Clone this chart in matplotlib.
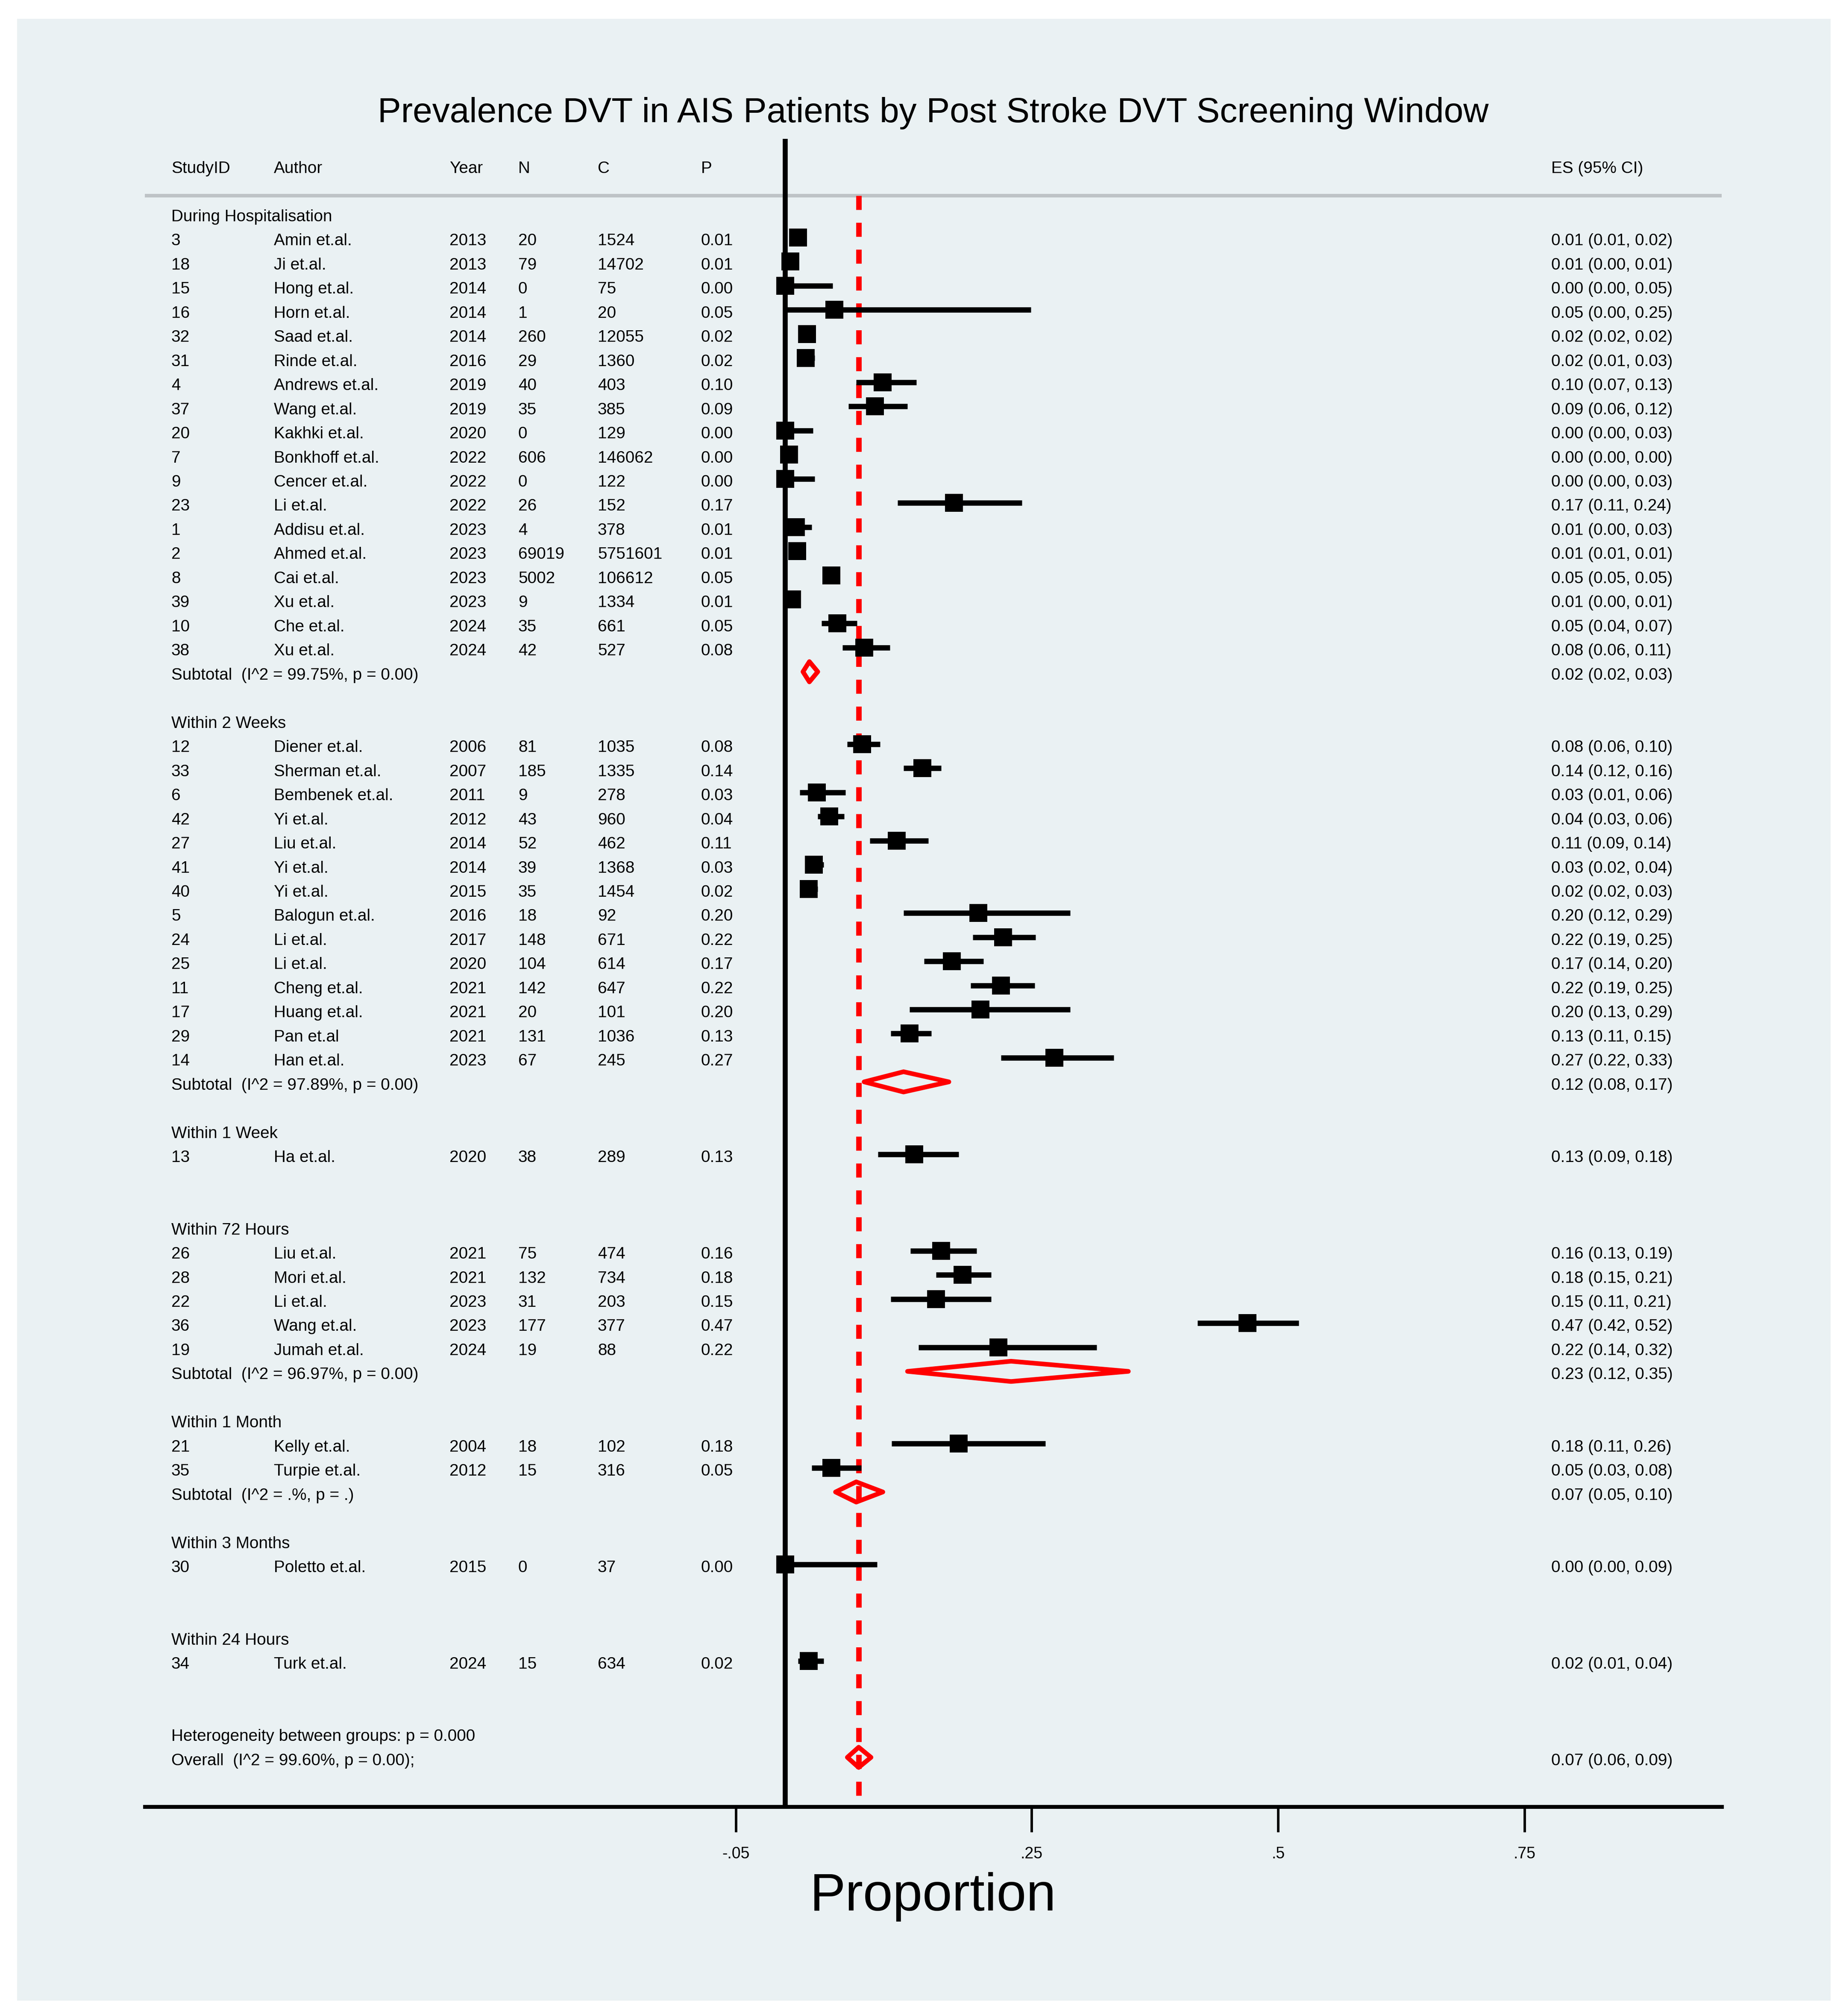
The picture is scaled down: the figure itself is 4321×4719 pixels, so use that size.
import matplotlib
matplotlib.use('Agg')
import matplotlib.pyplot as plt
import matplotlib.transforms as mtransforms
from matplotlib.patches import Rectangle, Polygon

plt.rcParams['font.family'] = ['Liberation Sans', 'DejaVu Sans']
plt.rcParams['lines.scale_dashes'] = False

# ---------------- data ----------------
title = "Prevalence DVT in AIS Patients by Post Stroke DVT Screening Window"
col_headers = ["StudyID", "Author", "Year", "N", "C", "P"]
es_header = "ES (95% CI)"

groups = ["During Hospitalisation", "Within 2 Weeks", "Within 1 Week", "Within 72 Hours",
          "Within 1 Month", "Within 3 Months", "Within 24 Hours"]
group_sizes = [18, 14, 1, 5, 2, 1, 1]

study_id = [3, 18, 15, 16, 32, 31, 4, 37, 20, 7, 9, 23, 1, 2, 8, 39, 10, 38,
            12, 33, 6, 42, 27, 41, 40, 5, 24, 25, 11, 17, 29, 14,
            13,
            26, 28, 22, 36, 19,
            21, 35,
            30,
            34]
author = ["Amin et.al.", "Ji et.al.", "Hong et.al.", "Horn et.al.", "Saad et.al.", "Rinde et.al.",
          "Andrews et.al.", "Wang et.al.", "Kakhki et.al.", "Bonkhoff et.al.", "Cencer et.al.",
          "Li et.al.", "Addisu et.al.", "Ahmed et.al.", "Cai et.al.", "Xu et.al.", "Che et.al.", "Xu et.al.",
          "Diener et.al.", "Sherman et.al.", "Bembenek et.al.", "Yi et.al.", "Liu et.al.", "Yi et.al.",
          "Yi et.al.", "Balogun et.al.", "Li et.al.", "Li et.al.", "Cheng et.al.", "Huang et.al.",
          "Pan et.al", "Han et.al.",
          "Ha et.al.",
          "Liu et.al.", "Mori et.al.", "Li et.al.", "Wang et.al.", "Jumah et.al.",
          "Kelly et.al.", "Turpie et.al.",
          "Poletto et.al.",
          "Turk et.al."]
year = [2013, 2013, 2014, 2014, 2014, 2016, 2019, 2019, 2020, 2022, 2022, 2022, 2023, 2023, 2023, 2023, 2024, 2024,
        2006, 2007, 2011, 2012, 2014, 2014, 2015, 2016, 2017, 2020, 2021, 2021, 2021, 2023,
        2020,
        2021, 2021, 2023, 2023, 2024,
        2004, 2012,
        2015,
        2024]
n_events = [20, 79, 0, 1, 260, 29, 40, 35, 0, 606, 0, 26, 4, 69019, 5002, 9, 35, 42,
            81, 185, 9, 43, 52, 39, 35, 18, 148, 104, 142, 20, 131, 67,
            38,
            75, 132, 31, 177, 19,
            18, 15,
            0,
            15]
n_total = [1524, 14702, 75, 20, 12055, 1360, 403, 385, 129, 146062, 122, 152, 378, 5751601, 106612, 1334, 661, 527,
           1035, 1335, 278, 960, 462, 1368, 1454, 92, 671, 614, 647, 101, 1036, 245,
           289,
           474, 734, 203, 377, 88,
           102, 316,
           37,
           634]
es = [0.013, 0.0054, 0.000, 0.050, 0.022, 0.021, 0.099, 0.091, 0.000, 0.004, 0.000, 0.171, 0.011, 0.012, 0.047, 0.007, 0.053, 0.080,
      0.078, 0.139, 0.032, 0.0448, 0.113, 0.029, 0.024, 0.196, 0.221, 0.169, 0.219, 0.198, 0.126, 0.273,
      0.131,
      0.158, 0.180, 0.153, 0.469, 0.216,
      0.176, 0.047,
      0.000,
      0.024]
ci_lo = [0.008, 0.0043, 0.000, 0.001, 0.019, 0.014, 0.072, 0.064, 0.000, 0.0038, 0.000, 0.114, 0.003, 0.0119, 0.046, 0.003, 0.037, 0.058,
         0.063, 0.120, 0.0148, 0.033, 0.086, 0.020, 0.017, 0.120, 0.190, 0.141, 0.188, 0.126, 0.107, 0.219,
         0.094,
         0.127, 0.153, 0.107, 0.418, 0.135,
         0.108, 0.027,
         0.000,
         0.013]
ci_hi = [0.020, 0.0067, 0.048, 0.249, 0.024, 0.030, 0.133, 0.124, 0.028, 0.0045, 0.030, 0.240, 0.027, 0.0121, 0.048, 0.013, 0.073, 0.106,
         0.096, 0.158, 0.061, 0.060, 0.145, 0.039, 0.033, 0.289, 0.254, 0.201, 0.253, 0.289, 0.148, 0.333,
         0.176,
         0.194, 0.209, 0.209, 0.521, 0.316,
         0.264, 0.077,
         0.093,
         0.039]

sub_stats = ["99.75%, p = 0.00", "97.89%, p = 0.00", None, "96.97%, p = 0.00", ".%, p = .", None, None]
sub_es = [0.0245, 0.120, None, 0.229, 0.072, None, None]
sub_lo = [0.018, 0.080, None, 0.124, 0.051, None, None]
sub_hi = [0.033, 0.166, None, 0.348, 0.099, None, None]

het_text = "Heterogeneity between groups: p = 0.000"
overall_stats = "99.60%, p = 0.00"
overall_es = 0.0745
overall_lo = 0.063
overall_hi = 0.087

tick_values = [-0.05, 0.25, 0.5, 0.75]
tick_labels = ["-.05", ".25", ".5", ".75"]
xlabel = "Proportion"

# ---------------- layout (pixels of the 4321 x 4719 canvas) ----------------
W, H = 4321, 4719
DPI = 300
fig = plt.figure(figsize=(W / DPI, H / DPI), dpi=DPI, facecolor='white')

def fx(px):
    return px / W

def fy(py):
    return 1 - py / H

BG = '#EAF1F3'
fig.patches.append(Rectangle((fx(40), fy(4683)), fx(4285) - fx(40), (4683 - 44) / H,
                             transform=fig.transFigure, facecolor=BG, edgecolor='none', zorder=-10))

ax_left, ax_right, ax_top, ax_bot = 339, 4030, 325, 4229
ax = fig.add_axes([fx(ax_left), fy(ax_bot), (ax_right - ax_left) / W, (ax_bot - ax_top) / H])
ax.set_facecolor('none')

zero_px, unit_px = 1838, 2308
row0_px, row_px = 504, 56.47
ax.set_xlim((ax_left - zero_px) / unit_px, (ax_right - zero_px) / unit_px)
ybot = (ax_bot - row0_px) / row_px
ytop = (ax_top - row0_px) / row_px
ax.set_ylim(ybot, ytop)

for s in ['left', 'right', 'top']:
    ax.spines[s].set_visible(False)
ax.spines['bottom'].set_linewidth(2.2)
ax.set_yticks([])
ax.set_xticks(tick_values)
ax.set_xticklabels(tick_labels)
ax.tick_params(axis='x', direction='out', length=14.4, width=1.4, pad=8.0, labelsize=9, colors='black')

FS = 9.3
TXT_OFF = 0.245   # baseline offset (rows) from row centre
MK_OFF = -0.08    # marks sit slightly above text centre
trans = mtransforms.blended_transform_factory(fig.transFigure, ax.transData)
col_x = [401, 641, 1052, 1213, 1399, 1641]
es_x = 3631

def put(px, row, s):
    ax.text(fx(px), row + TXT_OFF, s, transform=trans, fontsize=FS, ha='left', va='baseline',
            color='black', clip_on=False)

# header
header_row = -2
for cx, h in zip(col_x, col_headers):
    put(cx, header_row, h)
put(es_x, header_row, es_header)
ax.axhline(-0.815, color='#BEC3C6', lw=2.0, zorder=1)

# zero line and overall dashed line
ax.axvline(0, color='black', lw=2.8, zorder=2)
ax.plot([overall_es, overall_es], [-0.815, ybot], color='red', lw=3.1, dashes=(7.9, 7.2),
        solid_capstyle='butt', dash_capstyle='butt', zorder=2)

def diamond(row, e, lo, hi):
    yc = row + MK_OFF
    h = 0.42
    ax.add_patch(Polygon([(e, yc - h), (hi, yc), (e, yc + h), (lo, yc)], closed=True,
                         fill=False, edgecolor='red', lw=2.6, joinstyle='round', zorder=5))

def fmt_ci(e, lo, hi):
    return f"{e:.2f} ({lo:.2f}, {hi:.2f})"

row = 0
k = 0
for g, name in enumerate(groups):
    put(col_x[0], row, name)
    row += 1
    for _ in range(group_sizes[g]):
        put(col_x[0], row, str(study_id[k]))
        put(col_x[1], row, author[k])
        put(col_x[2], row, str(year[k]))
        put(col_x[3], row, str(n_events[k]))
        put(col_x[4], row, str(n_total[k]))
        put(col_x[5], row, f"{es[k]:.2f}")
        put(es_x, row, fmt_ci(es[k], ci_lo[k], ci_hi[k]))
        yc = row + MK_OFF
        ax.plot([ci_lo[k], ci_hi[k]], [yc, yc], color='black', lw=3.0, solid_capstyle='butt', zorder=3)
        ax.plot([es[k]], [yc], marker='s', ms=10, color='black', mew=0, zorder=4, clip_on=False)
        row += 1
        k += 1
    if sub_stats[g] is not None:
        put(col_x[0], row, f"Subtotal  (I^2 = {sub_stats[g]})")
        put(es_x, row, fmt_ci(sub_es[g], sub_lo[g], sub_hi[g]))
        diamond(row, sub_es[g], sub_lo[g], sub_hi[g])
    row += 1
    row += 1

put(col_x[0], row, het_text)
row += 1
put(col_x[0], row, f"Overall  (I^2 = {overall_stats});")
put(es_x, row, fmt_ci(overall_es, overall_lo, overall_hi))
diamond(row, overall_es, overall_lo, overall_hi)

# title and axis label
cx_axes = fx((ax_left + ax_right) / 2)
fig.text(cx_axes, fy(286), title, ha='center', va='baseline', fontsize=19.7, color='black')
fig.text(cx_axes, fy(4472), xlabel, ha='center', va='baseline', fontsize=30, color='black')

fig.savefig('out.png', dpi=DPI, facecolor='white')
